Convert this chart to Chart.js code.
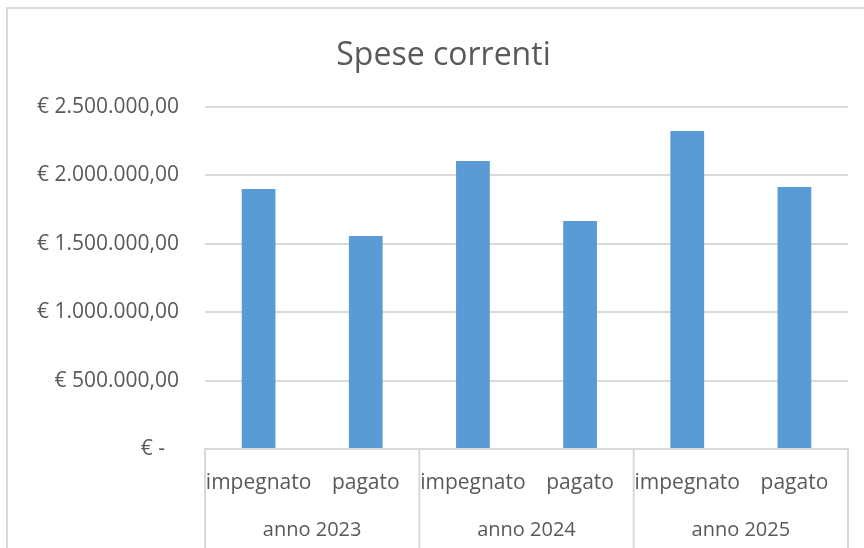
<!DOCTYPE html>
<html><head><meta charset="utf-8">
<script src="https://cdn.jsdelivr.net/npm/chart.js@4/dist/chart.umd.min.js"></script>
<style>html,body{margin:0;padding:0;background:#fff;overflow:hidden}</style>
</head><body>
<canvas id="c" width="864" height="548" style="display:block;width:864px;height:548px"></canvas>
<script>
const categories = ['impegnato', 'pagato', 'impegnato', 'pagato', 'impegnato', 'pagato'];
const years = ['anno 2023', 'anno 2024', 'anno 2025'];
const values = [1900000, 1557000, 2105000, 1667000, 2325000, 1915000];
const yTickValues = [0, 500000, 1000000, 1500000, 2000000, 2500000];
const yTickLabels = ['€ -\u2002\u2009', '€ 500.000,00', '€ 1.000.000,00', '€ 1.500.000,00', '€ 2.000.000,00', '€ 2.500.000,00'];
const title = 'Spese correnti';

const FONT = '"Open Sans"';
const TXT = '#595959';
const GRID = '#d9d9d9';
const FRAME_LEFT = 7, FRAME_TOP = 8, FRAME_OVERHANG = 16;

const framePlugin = {
  id: 'frame',
  beforeDraw(chart) {
    const ctx = chart.ctx;
    ctx.save();
    ctx.fillStyle = '#fff';
    ctx.fillRect(0, 0, chart.width, chart.height);
    ctx.strokeStyle = GRID;
    ctx.lineWidth = 2;
    ctx.beginPath();
    ctx.moveTo(FRAME_LEFT, chart.height + 5);
    ctx.lineTo(FRAME_LEFT, FRAME_TOP);
    ctx.lineTo(chart.width + 5, FRAME_TOP);
    ctx.stroke();
    ctx.restore();
  },
  afterDraw(chart) {
    const ctx = chart.ctx;
    const xs = chart.scales.x;
    const n = categories.length;
    const groups = years.length;
    const per = n / groups;
    ctx.save();
    ctx.strokeStyle = GRID;
    ctx.lineWidth = 2;
    for (let g = 0; g <= groups; g++) {
      let px;
      if (g === 0) px = xs.left;
      else if (g === groups) px = xs.right;
      else px = (xs.getPixelForValue(g * per - 1) + xs.getPixelForValue(g * per)) / 2;
      ctx.beginPath();
      ctx.moveTo(px, chart.chartArea.bottom);
      ctx.lineTo(px, chart.height);
      ctx.stroke();
    }
    ctx.beginPath();
    ctx.moveTo(xs.left - 1, chart.chartArea.bottom);
    ctx.lineTo(xs.right + 1, chart.chartArea.bottom);
    ctx.stroke();
    // title, centred on the (cropped) chart frame
    ctx.fillStyle = TXT;
    ctx.font = '32px ' + FONT;
    ctx.textAlign = 'center';
    ctx.textBaseline = 'middle';
    ctx.fillText(title, (FRAME_LEFT + chart.width + FRAME_OVERHANG) / 2, 55.5);
    ctx.restore();
  }
};

new Chart(document.getElementById('c'), {
  type: 'bar',
  data: {
    labels: categories,
    datasets: [{
      data: values,
      backgroundColor: '#5b9bd5',
      borderWidth: 0,
      barPercentage: 0.315,
      categoryPercentage: 1.0
    }]
  },
  plugins: [framePlugin],
  options: {
    responsive: false,
    animation: false,
    devicePixelRatio: 1,
    layout: { padding: { left: 16, right: 16, top: 107, bottom: 0 } },
    plugins: {
      legend: { display: false },
      tooltip: { enabled: false },
      title: { display: false }
    },
    scales: {
      x: {
        type: 'category',
        position: 'bottom',
        grid: { display: false },
        border: { display: false },
        ticks: {
          color: TXT,
          font: { family: FONT, size: 21 },
          padding: 13,
          maxRotation: 0,
          autoSkip: false
        },
        afterFit(s) { s.height = 56; }
      },
      x2: {
        type: 'category',
        position: 'bottom',
        labels: years,
        offset: true,
        grid: { display: false },
        border: { display: false },
        ticks: {
          color: TXT,
          font: { family: FONT, size: 20 },
          padding: 5,
          maxRotation: 0,
          autoSkip: false
        },
        afterFit(s) { s.height = 43; }
      },
      y: {
        min: 0,
        max: 2500000,
        afterBuildTicks(s) { s.ticks = yTickValues.map(v => ({ value: v })); },
        grid: { color: GRID, lineWidth: 2, drawTicks: false },
        border: { display: false },
        ticks: {
          color: TXT,
          font: { family: FONT, size: 21 },
          padding: 26,
          callback(v) { const i = yTickValues.indexOf(v); return i >= 0 ? yTickLabels[i] : ''; }
        },
        afterFit(s) { s.width = 189; }
      }
    }
  }
});
</script>
</body></html>
